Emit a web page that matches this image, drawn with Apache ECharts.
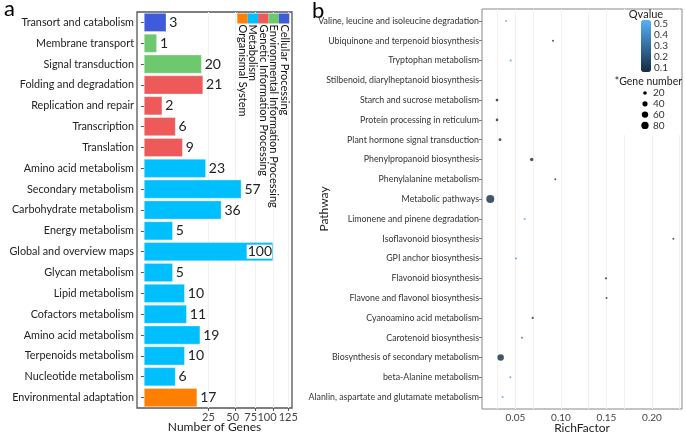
<!DOCTYPE html>
<html><head><meta charset="utf-8">
<script src="https://cdn.jsdelivr.net/npm/echarts@6/dist/echarts.min.js"></script>
<style>html,body{margin:0;padding:0;background:#fff}#c{width:685px;height:434px}</style>
</head><body><div id="c"></div>
<script>
// ---- panel a data ----
const geneCategories = ['Transort and catabolism','Membrane transport','Signal transduction','Folding and degradation','Replication and repair','Transcription','Translation','Amino acid metabolism','Secondary metabolism','Carbohydrate metabolism','Energy metabolism','Global and overview maps','Glycan metabolism','Lipid metabolism','Cofactors metabolism','Amino acid metabolism','Terpenoids metabolism','Nucleotide metabolism','Environmental adaptation'];
const geneCounts = [3,1,20,21,2,6,9,23,57,36,5,100,5,10,11,19,10,6,17];
const geneGroups = [4,3,3,2,2,2,2,1,1,1,1,1,1,1,1,1,1,1,0];
const groupNames = ['Organismal System','Metabolism','Genetic Information Processing','Environmental Information Processing','Cellular Processing'];
const groupColors = ['#FF8000','#00BFFF','#EE5A5A','#6EC86E','#3D5BDB'];
const countTicks = [25,50,75,100,125];

// ---- panel b data ----
const pathways = ['Valine, leucine and isoleucine degradation','Ubiquinone and terpenoid biosynthesis','Tryptophan metabolism','Stilbenoid, diarylheptanoid biosynthesis','Starch and sucrose metabolism','Protein processing in reticulum','Plant hormone signal transduction','Phenylpropanoid biosynthesis','Phenylalanine metabolism','Metabolic pathways','Limonene and pinene degradation','Isoflavonoid biosynthesis','GPI anchor biosynthesis','Flavonoid biosynthesis','Flavone and flavonol biosynthesis','Cyanoamino acid metabolism','Carotenoid biosynthesis','Biosynthesis of secondary metabolism','beta-Alanine metabolism','Alanlin, aspartate and glutamate metabolism'];
const richFactor = [0.0396,0.0912,0.0447,null,0.0297,0.0297,0.0330,0.0678,0.0938,0.0223,0.0601,0.2235,0.0505,0.1495,0.1500,0.0689,0.0571,0.0337,0.0443,0.0359];
const geneNumber = [3,4,3,null,11,10,12,17,4,96,2,4,3,7,5,7,3,62,3,2];
const qValue = [0.50,0.10,0.45,null,0.07,0.07,0.08,0.07,0.10,0.07,0.50,0.10,0.45,0.08,0.10,0.10,0.30,0.07,0.45,0.50];
const richTicks = [0.05,0.10,0.15,0.20];
const richGrid = [0.025,0.05,0.075,0.10,0.125,0.15,0.175,0.20,0.225];
const qTicks = [0.1,0.2,0.3,0.4,0.5];
const sizeBreaks = [20,40,60,80];

const FONT = 'Lato';
const qMin = 0.064, qMax = 0.536;
function dotSize(n){ return Math.max(2, 0.82*Math.sqrt(n)); }

const chart = echarts.init(document.getElementById('c'), null, {renderer:'canvas'});

const graphics = [];
graphics.push({type:'text', left:4, top:-2, style:{text:'a', font:'22px '+FONT, fill:'#000'}});
graphics.push({type:'text', left:312, top:0, style:{text:'b', font:'22px '+FONT, fill:'#000'}});
// left legend (rotated)
const sqW = 10.4, sqX0 = 237.3;
groupNames.forEach((g,i)=>{
  graphics.push({type:'rect', shape:{x:sqX0+i*sqW, y:13.5, width:sqW, height:10}, style:{fill:groupColors[i]}, z:50});
  graphics.push({type:'text', x:sqX0+i*sqW+sqW/2, y:24.5, rotation:-Math.PI/2,
    style:{text:g, font:'11px '+FONT, fill:'#111', align:'left', verticalAlign:'middle'}, z:50});
});
// right legend
graphics.push({type:'rect', shape:{x:620, y:10, width:61, height:125}, style:{fill:'#fff'}, z:40, silent:true});
graphics.push({type:'text', x:646, y:14, style:{text:'Qvalue', font:'11px '+FONT, fill:'#222', align:'center', verticalAlign:'middle'}, z:50});
qTicks.forEach(q=>{
  const y = 20 + (qMax - q)/(qMax - qMin)*52;
  graphics.push({type:'text', x:654, y:y, style:{text:q.toFixed(1), font:'10px '+FONT, fill:'#333', align:'left', verticalAlign:'middle'}, z:50});
});
graphics.push({type:'text', x:682, y:82, style:{text:'*Gene number', font:'10.5px '+FONT, fill:'#222', align:'right', verticalAlign:'middle'}, z:50});
sizeBreaks.forEach((n,i)=>{
  const y = 93 + i*10.8;
  graphics.push({type:'circle', shape:{cx:645, cy:y, r:dotSize(n)/2}, style:{fill:'#000'}, z:50});
  graphics.push({type:'text', x:653, y:y, style:{text:String(n), font:'10px '+FONT, fill:'#333', align:'left', verticalAlign:'middle'}, z:50});
});

const maxCount = Math.max(...geneCounts);
// labels of the crowded sqrt axis: outer labels on one axis, inner ones on a second (shifted like the original)
const outerTicks = [countTicks[0], countTicks[4]];
const innerTicks = [countTicks[1], countTicks[2], countTicks[3]];
const innerShift = {50:5, 75:10, 100:12};

chart.setOption({
  animation:false,
  textStyle:{fontFamily:FONT},
  grid:[
    {left:137, right:685-292, top:12, bottom:434-408, outerBoundsMode:'none', containLabel:false, show:true, borderColor:'#555', borderWidth:1.3, backgroundColor:'#fff'},
    {left:482, right:3, top:9, bottom:25, outerBoundsMode:'none', containLabel:false, show:true, borderColor:'#888', borderWidth:1, backgroundColor:'#fff'}
  ],
  xAxis:[
    {type:'value', gridIndex:0, min:-0.54, max:11.47,
     axisLine:{show:false}, splitLine:{show:false},
     axisTick:{show:true, length:3, lineStyle:{color:'#555'}, customValues:countTicks.map(Math.sqrt)},
     axisLabel:{customValues:outerTicks.map(Math.sqrt), formatter:v=>String(Math.round(v*v)), fontSize:11, color:'#444', margin:4, fontFamily:FONT},
     name:'Number of Genes', nameLocation:'middle', nameGap:13, nameMoveOverlap:false, nameTextStyle:{fontSize:12, color:'#222', fontFamily:FONT}},
    {type:'value', gridIndex:1, min:0.0132, max:0.233,
     axisLine:{show:false}, splitLine:{show:false},
     axisTick:{show:true, length:3, lineStyle:{color:'#777'}, customValues:richTicks},
     axisLabel:{customValues:richTicks, formatter:v=>v.toFixed(2), fontSize:10, color:'#444', margin:4, fontFamily:FONT},
     name:'RichFactor', nameLocation:'middle', nameGap:13, nameMoveOverlap:false, nameTextStyle:{fontSize:12, color:'#222', fontFamily:FONT}},
    {type:'value', gridIndex:0, position:'bottom', min:-0.54, max:11.47,
     axisLine:{show:false}, splitLine:{show:false}, axisTick:{show:false},
     axisLabel:{customValues:innerTicks.map(Math.sqrt), fontSize:11, color:'#444', margin:4, fontFamily:FONT,
       formatter:v=>{const n=Math.round(v*v); return '{s'+n+'|'+n+'}';},
       rich:{s50:{padding:[0,innerShift[50],0,0]}, s75:{padding:[0,innerShift[75],0,0]}, s100:{padding:[0,innerShift[100],0,0]}}}}
  ],
  yAxis:[
    {type:'category', gridIndex:0, inverse:true, data:geneCategories,
     axisLine:{show:false}, axisTick:{show:true, length:3, alignWithLabel:true, lineStyle:{color:'#555'}},
     axisLabel:{fontSize:10.8, color:'#222', margin:3, fontFamily:FONT}},
    {type:'value', gridIndex:1, inverse:true, min:-0.6, max:pathways.length-1+0.6,
     axisLine:{show:false}, splitLine:{show:false},
     axisTick:{show:true, length:3, lineStyle:{color:'#777'}, customValues:pathways.map((p,i)=>i)},
     axisLabel:{customValues:pathways.map((p,i)=>i), formatter:v=>pathways[Math.round(v)], fontSize:8.8, color:'#333', margin:3, fontFamily:FONT},
     name:'Pathway', nameLocation:'middle', nameRotate:90, nameGap:152, nameMoveOverlap:false, nameTextStyle:{fontSize:12, color:'#222', fontFamily:FONT}}
  ],
  visualMap:[{type:'continuous', seriesIndex:1, dimension:2, min:qMin, max:qMax,
    inRange:{color:['#132B43','#56B1F7']}, left:641, top:20, itemWidth:10, itemHeight:52, padding:0,
    text:['',''], calculable:false, hoverLink:false, z:60}],
  graphic:graphics,
  series:[
    {type:'bar', xAxisIndex:0, yAxisIndex:0, barCategoryGap:'10%', z:3,
     data:geneCounts.map((v,i)=>{
       const d = {value:Math.sqrt(v), itemStyle:{color:groupColors[geneGroups[i]], borderColor:'rgba(255,255,255,0.5)', borderWidth:0.6}};
       if(v===maxCount){ d.label = {position:'insideRight', distance:1, backgroundColor:'#fff', padding:[0,0,0,1]}; }
       return d;
     }),
     label:{show:true, position:'right', distance:3, fontSize:14, color:'#222', fontFamily:FONT,
       formatter:p=>String(geneCounts[p.dataIndex])}},
    {type:'scatter', xAxisIndex:1, yAxisIndex:1, z:3,
     data:pathways.map((p,i)=> richFactor[i]==null ? [null,i,null,null] : [richFactor[i], i, qValue[i], geneNumber[i]]),
     symbolSize:d=> d[3]==null ? 0 : dotSize(d[3])},
    {type:'line', xAxisIndex:0, yAxisIndex:0, data:[], z:1, silent:true,
     markLine:{z:1, silent:true, symbol:['none','none'], label:{show:false}, lineStyle:{color:'#f1f1f1', type:'solid', width:1},
       data:countTicks.map(v=>({xAxis:Math.sqrt(v)}))}},
    {type:'line', xAxisIndex:1, yAxisIndex:1, data:[], z:1, silent:true,
     markLine:{z:1, silent:true, symbol:['none','none'], label:{show:false}, lineStyle:{color:'#f1f1f1', type:'solid', width:1},
       data:richGrid.map(v=>({xAxis:v}))}}
  ]
});
</script></body></html>
